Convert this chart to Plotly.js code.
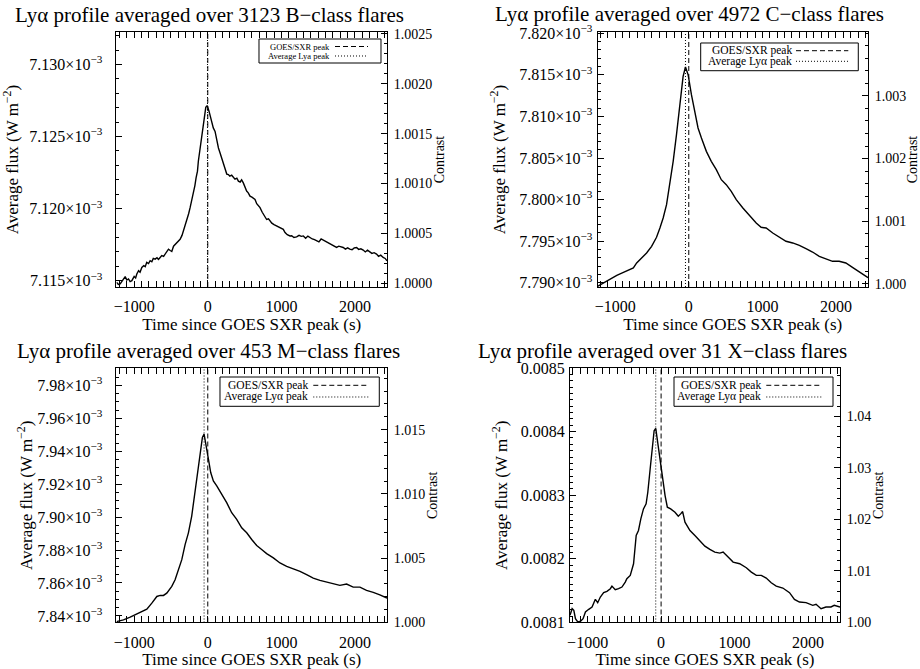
<!DOCTYPE html>
<html>
<head>
<meta charset="utf-8">
<script src="https://cdn.plot.ly/plotly-3.0.1.min.js"></script>
<style>
html,body{margin:0;padding:0;background:#fff;}
#chart{width:920px;height:669px;}
</style>
</head>
<body>
<div id="chart"></div>
<script>
// ---------------- DATA (flux in units of 1e-3 W m^-2, time in s since GOES SXR peak) ----------------
const timeB = [-1240,-1215,-1190,-1160,-1140,-1122,-1100,-1077,-1055,-1031,-1000,-980,-964,-940,-920,-896,-870,-850,-829,-805,-783,-760,-740,-715,-690,-670,-647,-625,-600,-580,-555,-534,-510,-489,-465,-440,-421,-400,-376,-350,-330,-305,-285,-260,-240,-215,-195,-175,-159,-140,-128,-110,-95,-75,-59,-40,-27,-9,5,18,35,54,75,99,120,145,165,190,210,235,258,280,300,325,348,370,395,416,440,460,483,505,528,550,574,600,620,642,665,690,710,740,760,777,800,825,846,870,900,936,960,990,1026,1050,1080,1117,1140,1170,1207,1240,1270,1298,1330,1360,1388,1420,1450,1478,1510,1540,1569,1600,1630,1659,1690,1720,1750,1780,1810,1840,1870,1900,1930,1960,1990,2022,2050,2080,2112,2140,2170,2203,2230,2260,2293,2320,2350,2383,2410,2435];
const fluxB = [7.11490,7.11475,7.11478,7.11500,7.11520,7.11529,7.11505,7.11513,7.11495,7.11501,7.11530,7.11520,7.11547,7.11570,7.11560,7.11593,7.11605,7.11598,7.11628,7.11620,7.11639,7.11632,7.11655,7.11650,7.11660,7.11648,7.11662,7.11675,7.11670,7.11685,7.11700,7.11719,7.11710,7.11703,7.11740,7.11752,7.11765,7.11778,7.11788,7.11815,7.11846,7.11880,7.11926,7.11965,7.12007,7.12060,7.12122,7.12160,7.12214,7.12260,7.12329,7.12400,7.12467,7.12540,7.12605,7.12665,7.12703,7.12715,7.12700,7.12674,7.12640,7.12605,7.12560,7.12536,7.12470,7.12421,7.12390,7.12352,7.12320,7.12283,7.12240,7.12237,7.12225,7.12232,7.12214,7.12205,7.12212,7.12191,7.12185,7.12200,7.12179,7.12150,7.12122,7.12110,7.12087,7.12080,7.12070,7.12064,7.12035,7.12020,7.12007,7.11975,7.11960,7.11949,7.11925,7.11930,7.11915,7.11900,7.11890,7.11880,7.11870,7.11862,7.11857,7.11835,7.11820,7.11811,7.11812,7.11800,7.11805,7.11815,7.11808,7.11811,7.11795,7.11810,7.11800,7.11790,7.11785,7.11777,7.11770,7.11790,7.11782,7.11775,7.11765,7.11754,7.11745,7.11740,7.11731,7.11740,7.11738,7.11731,7.11720,7.11728,7.11719,7.11715,7.11728,7.11731,7.11718,7.11722,7.11713,7.11700,7.11712,7.11703,7.11690,7.11695,7.11685,7.11670,7.11678,7.11662,7.11655,7.11639];

const timeC = [-1240,-1159,-1069,-978,-888,-821,-753,-708,-641,-573,-505,-438,-392,-348,-302,-257,-212,-167,-121,-77,-45,-9,36,81,126,172,239,306,374,442,509,577,645,735,826,916,983,1051,1141,1231,1321,1412,1502,1592,1682,1773,1863,1953,2043,2134,2224,2313,2403,2435];
const fluxC = [7.78956,7.78996,7.79049,7.79089,7.79125,7.79149,7.79177,7.79237,7.79297,7.79357,7.79437,7.79546,7.79658,7.79778,7.79939,7.80179,7.80460,7.80781,7.81141,7.81482,7.81595,7.81502,7.81262,7.81041,7.80861,7.80741,7.80580,7.80460,7.80360,7.80239,7.80179,7.80099,7.79999,7.79899,7.79810,7.79718,7.79666,7.79658,7.79598,7.79546,7.79498,7.79478,7.79449,7.79409,7.79369,7.79317,7.79285,7.79257,7.79257,7.79237,7.79185,7.79129,7.79077,7.79060];

const timeM = [-1240,-1145,-1054,-964,-873,-828,-760,-692,-647,-602,-557,-489,-444,-399,-353,-308,-263,-218,-172,-141,-104,-73,-50,-23,9,40,76,122,190,257,325,393,461,529,597,665,732,800,891,981,1072,1162,1253,1343,1433,1524,1614,1705,1795,1886,1976,2067,2157,2248,2338,2435];
const fluxM = [7.83656,7.83757,7.83920,7.84124,7.84327,7.84409,7.84775,7.85182,7.85243,7.85243,7.85385,7.85792,7.86199,7.86809,7.87419,7.88335,7.89047,7.90064,7.91488,7.92505,7.93726,7.94845,7.95048,7.94438,7.93522,7.92709,7.92200,7.91895,7.91386,7.90878,7.90267,7.89860,7.89352,7.89047,7.88640,7.88274,7.88030,7.87785,7.87521,7.87216,7.87013,7.86870,7.86707,7.86504,7.86300,7.86158,7.86056,7.85954,7.85853,7.85934,7.85751,7.85751,7.85548,7.85426,7.85283,7.85080];

const timeX = [-1240,-1211,-1188,-1166,-1134,-1098,-1062,-1030,-985,-940,-895,-863,-827,-782,-737,-691,-669,-624,-579,-533,-488,-466,-420,-375,-339,-308,-276,-240,-204,-181,-149,-122,-95,-73,-46,-14,18,54,85,130,189,234,266,293,325,393,460,528,596,664,731,799,844,912,980,1070,1160,1228,1296,1364,1431,1499,1567,1657,1748,1815,1883,1973,2064,2109,2177,2244,2312,2357,2435];
const fluxX = [8.11124,8.12170,8.11910,8.10602,8.10079,8.10184,8.10602,8.11648,8.12066,8.12432,8.13635,8.13111,8.14000,8.14680,8.14890,8.15307,8.15726,8.15150,8.15307,8.15569,8.16354,8.16876,8.17400,8.19229,8.23674,8.24458,8.26288,8.27856,8.28640,8.30471,8.34131,8.37791,8.40144,8.40510,8.38314,8.35177,8.32562,8.29948,8.28118,8.27856,8.27334,8.26706,8.27072,8.27438,8.25765,8.24458,8.23674,8.22889,8.22001,8.21478,8.21059,8.20902,8.21059,8.20275,8.19491,8.19229,8.18601,8.17922,8.17400,8.17400,8.16981,8.16248,8.15726,8.15412,8.14680,8.13635,8.13216,8.13111,8.12693,8.12850,8.12170,8.12432,8.12432,8.12693,8.12432];

const fluxUnit = 1e-3; // listed fluxes are in 1e-3 W m^-2

const flareCounts = [3123, 4972, 453, 31];
const flareClasses = ['B', 'C', 'M', 'X'];
const goesPeak = [0, 0, 0, 0];          // s
const lyaPeak = [-4, -45, -50, -73];    // s
const contrastBase = [7.1146, 7.7895, 7.8360, 8.1000]; // 1e-3 W m^-2, flux where contrast = 1

// tick labels
const xTickVals = [-1000, 0, 1000, 2000];
const leftTickValsB = [7.115e-3, 7.120e-3, 7.125e-3, 7.130e-3];
const leftTickTextB = ['7.115×10<sup>−3</sup>', '7.120×10<sup>−3</sup>', '7.125×10<sup>−3</sup>', '7.130×10<sup>−3</sup>'];
const leftTickValsC = [7.790e-3, 7.795e-3, 7.800e-3, 7.805e-3, 7.810e-3, 7.815e-3, 7.820e-3];
const leftTickTextC = ['7.790×10<sup>−3</sup>', '7.795×10<sup>−3</sup>', '7.800×10<sup>−3</sup>', '7.805×10<sup>−3</sup>', '7.810×10<sup>−3</sup>', '7.815×10<sup>−3</sup>', '7.820×10<sup>−3</sup>'];
const leftTickValsM = [7.84e-3, 7.86e-3, 7.88e-3, 7.90e-3, 7.92e-3, 7.94e-3, 7.96e-3, 7.98e-3];
const leftTickTextM = ['7.84×10<sup>−3</sup>', '7.86×10<sup>−3</sup>', '7.88×10<sup>−3</sup>', '7.90×10<sup>−3</sup>', '7.92×10<sup>−3</sup>', '7.94×10<sup>−3</sup>', '7.96×10<sup>−3</sup>', '7.98×10<sup>−3</sup>'];
const leftTickValsX = [0.0081, 0.0082, 0.0083, 0.0084, 0.0085];
const leftTickTextX = ['0.0081', '0.0082', '0.0083', '0.0084', '0.0085'];
const rightTickValsB = [1.0000, 1.0005, 1.0010, 1.0015, 1.0020, 1.0025];
const rightTickTextB = ['1.0000', '1.0005', '1.0010', '1.0015', '1.0020', '1.0025'];
const rightTickValsC = [1.000, 1.001, 1.002, 1.003];
const rightTickTextC = ['1.000', '1.001', '1.002', '1.003'];
const rightTickValsM = [1.000, 1.005, 1.010, 1.015];
const rightTickTextM = ['1.000', '1.005', '1.010', '1.015'];
const rightTickValsX = [1.00, 1.01, 1.02, 1.03, 1.04];
const rightTickTextX = ['1.00', '1.01', '1.02', '1.03', '1.04'];

const legendLabels = [
  ['GOES/SXR peak', 'Average Lya peak'],
  ['GOES/SXR peak', 'Average Lyα peak'],
  ['GOES/SXR peak', 'Average Lyα peak'],
  ['GOES/SXR peak', 'Average Lyα peak']
];

// ---------------- STYLE / LAYOUT ----------------
const SERIF = '"Liberation Serif", "Times New Roman", Times, serif';
const series = [
  {t: timeB, f: fluxB, lv: leftTickValsB, lt: leftTickTextB, rv: rightTickValsB, rt: rightTickTextB},
  {t: timeC, f: fluxC, lv: leftTickValsC, lt: leftTickTextC, rv: rightTickValsC, rt: rightTickTextC},
  {t: timeM, f: fluxM, lv: leftTickValsM, lt: leftTickTextM, rv: rightTickValsM, rt: rightTickTextM},
  {t: timeX, f: fluxX, lv: leftTickValsX, lt: leftTickTextX, rv: rightTickValsX, rt: rightTickTextX}
];
const geom = [
  {x: [0.12663, 0.42065], y: [0.57100, 0.95217], left: [7.11457e-3, 7.13225e-3], right: [0.99996, 1.00252],
   lminor: 1e-6, rminor: 0.0001, lstand: 10, ytStand: 6, title: [0.2272, 0.9776],
   legend: {box: [0.5268, 0.9778, 0.8784, 0.9725], rows: [0.9431, 0.9059], tr: 0.7930, s: [0.8078, 0.9298], fs: 8.5}},
  {x: [0.64946, 0.94348], y: [0.57100, 0.95217], left: [7.78948e-3, 7.82016e-3], right: [0.99995, 1.00402],
   lminor: 1e-6, rminor: 0.0002, lstand: 1, ytStand: 9, title: [0.7495, 0.9791],
   legend: {box: [0.3815, 0.9641, 0.8482, 0.9569], rows: [0.9267, 0.8851], tr: 0.7216, s: [0.7338, 0.9272], fs: 11.5}},
  {x: [0.12663, 0.42065], y: [0.06951, 0.44993], left: [7.8360e-3, 7.9906e-3], right: [0.99999, 1.0198],
   lminor: 5e-6, rminor: 0.001, lstand: 10, ytStand: 0, title: [0.2268, 0.4758],
   legend: {box: [0.3826, 0.9715, 0.8495, 0.9646], rows: [0.932, 0.8861], tr: 0.7128, s: [0.7275, 0.9309], fs: 11.5}},
  {x: [0.61957, 0.91304], y: [0.06951, 0.44993], left: [0.00809995, 0.00850005], right: [0.99999, 1.04938],
   lminor: 1e-5, rminor: 0.002, lstand: 1, ytStand: 8, title: [0.7201, 0.4758],
   legend: {box: [0.3852, 0.9741, 0.8495, 0.9646], rows: [0.932, 0.8861], tr: 0.7122, s: [0.7270, 0.9307], fs: 11.5}}
];

const data = [];
const layout = {
  width: 920, height: 669,
  margin: {l: 0, r: 0, t: 0, b: 0},
  paper_bgcolor: 'white', plot_bgcolor: 'white',
  showlegend: false,
  font: {family: SERIF, color: 'black', size: 16},
  annotations: [], shapes: []
};

for (let i = 0; i < 4; i++) {
  const s = series[i], g = geom[i];
  const xi = i + 1, yli = 2 * i + 1, yri = 2 * i + 2;
  const xRef = xi === 1 ? 'x' : 'x' + xi;
  const ylRef = yli === 1 ? 'y' : 'y' + yli;
  const yrRef = 'y' + yri;
  const xKey = xi === 1 ? 'xaxis' : 'xaxis' + xi;
  const ylKey = yli === 1 ? 'yaxis' : 'yaxis' + yli;
  const yrKey = 'yaxis' + yri;

  // contrast (flux / base) on the right axis; drawn transparent, it only carries the right scale
  data.push({
    type: 'scatter', mode: 'lines',
    x: s.t, y: s.f.map(v => v / contrastBase[i]),
    xaxis: xRef, yaxis: yrRef,
    line: {color: 'black', width: 1}, opacity: 0,
    hoverinfo: 'skip', showlegend: false
  });
  // averaged Ly-alpha flux on the left axis
  data.push({
    type: 'scatter', mode: 'lines',
    x: s.t, y: s.f.map(v => v * fluxUnit),
    xaxis: xRef, yaxis: ylRef,
    line: {color: 'black', width: 1.4},
    hoverinfo: 'skip', showlegend: false
  });

  layout[xKey] = {
    domain: g.x, anchor: ylRef, range: [-1240, 2435],
    tickmode: 'array', tickvals: xTickVals,
    ticks: 'inside', ticklen: 6, tickwidth: 1, tickcolor: 'black',
    minor: {tickmode: 'linear', tick0: 0, dtick: 100, ticks: 'inside', ticklen: 3, tickcolor: 'black'},
    showline: true, linecolor: 'black', linewidth: 1, mirror: 'allticks',
    showgrid: false, zeroline: false,
    tickfont: {family: SERIF, size: 16}, ticklabelstandoff: 5,
    title: {text: 'Time since GOES SXR peak (s)', font: {family: SERIF, size: 17}, standoff: 1}
  };
  layout[ylKey] = {
    domain: g.y, anchor: xRef, range: g.left,
    tickmode: 'array', tickvals: s.lv, ticktext: s.lt,
    ticks: 'inside', ticklen: 6, tickcolor: 'black',
    minor: {tickmode: 'linear', tick0: s.lv[0], dtick: g.lminor, ticks: 'inside', ticklen: 3, tickcolor: 'black'},
    showline: true, linecolor: 'black', linewidth: 1, mirror: false,
    showgrid: false, zeroline: false,
    tickfont: {family: SERIF, size: 16}, ticklabelstandoff: g.lstand,
    title: {text: 'Average flux (W m<sup>−2</sup>)', font: {family: SERIF, size: 17}, standoff: g.ytStand}
  };
  layout[yrKey] = {
    overlaying: ylRef, anchor: xRef, side: 'right', range: g.right,
    tickmode: 'array', tickvals: s.rv, ticktext: s.rt,
    ticks: 'inside', ticklen: 6, tickcolor: 'black',
    minor: {tickmode: 'linear', tick0: 1, dtick: g.rminor, ticks: 'inside', ticklen: 3, tickcolor: 'black'},
    showline: true, linecolor: 'black', linewidth: 1,
    showgrid: false, zeroline: false,
    tickfont: {family: SERIF, size: 14}, ticklabelstandoff: 3,
    title: {text: 'Contrast', font: {family: SERIF, size: 14}, standoff: 1}
  };

  // GOES / Ly-alpha peak markers
  layout.shapes.push({type: 'line', xref: xRef, yref: ylRef + ' domain', x0: goesPeak[i], x1: goesPeak[i], y0: 0, y1: 1,
    line: {color: 'black', width: 1, dash: '5px,3px'}});
  layout.shapes.push({type: 'line', xref: xRef, yref: ylRef + ' domain', x0: lyaPeak[i], x1: lyaPeak[i], y0: 0, y1: 1,
    line: {color: 'black', width: 1, dash: '1px,2px'}});

  // legend box
  const L = g.legend;
  const xd = xRef + ' domain', yd = ylRef + ' domain';
  layout.shapes.push({type: 'rect', xref: xd, yref: yd, x0: L.box[0], x1: L.box[1], y0: L.box[2], y1: L.box[3],
    line: {color: 'black', width: 1}, fillcolor: 'white', layer: 'above'});
  layout.shapes.push({type: 'line', xref: xd, yref: yd, x0: L.s[0], x1: L.s[1], y0: L.rows[0], y1: L.rows[0],
    line: {color: 'black', width: 1, dash: '5px,3px'}});
  layout.shapes.push({type: 'line', xref: xd, yref: yd, x0: L.s[0], x1: L.s[1], y0: L.rows[1], y1: L.rows[1],
    line: {color: 'black', width: 1, dash: '1px,2px'}});
  for (let r = 0; r < 2; r++) {
    layout.annotations.push({xref: xd, yref: yd, x: L.tr, y: L.rows[r], xanchor: 'right', yanchor: 'middle',
      text: legendLabels[i][r], showarrow: false, borderpad: 0, font: {family: SERIF, size: L.fs, color: 'black'}});
  }

  // panel title
  layout.annotations.push({xref: 'paper', yref: 'paper', x: g.title[0], y: g.title[1], xanchor: 'center', yanchor: 'middle',
    text: 'Lyα profile averaged over ' + flareCounts[i] + ' ' + flareClasses[i] + '−class flares',
    showarrow: false, font: {family: SERIF, size: 21, color: 'black'}});
}

Plotly.newPlot('chart', data, layout, {staticPlot: true, displayModeBar: false});
</script>
</body>
</html>
